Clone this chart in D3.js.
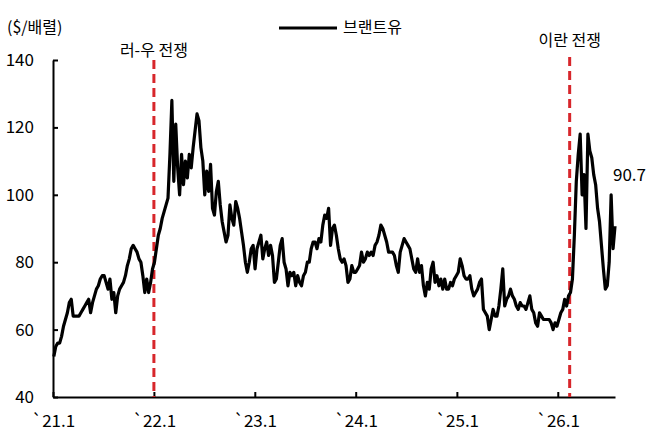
<!DOCTYPE html>
<html>
<head>
<meta charset="utf-8">
<script src="https://cdn.jsdelivr.net/npm/d3@7"></script>
<style>
body { margin: 0; background: #fff; }
text { font-family: "Noto Sans CJK KR", "Noto Sans", sans-serif; fill: #000; }
</style>
</head>
<body>
<div id="chart"></div>
<script>
// weekly Brent closes ($/bbl), first week = 2021-01-04
var brent21 = [52,55,56,56, 58,61,63,65, 68,69,64,64,64, 64,65,66,67, 68,69,65,68,70, 72,73,75,76, 76,74,72,75, 69,71,65,70,72, 73,74,76,79, 81,84,85,84, 83,81,80,76,71, 75,71,74,78];
var brent22 = [80,84,88,90,93, 95,97,99,112, 128,104,121,108, 100,112,103,110, 105,112,108,114,119, 124,122,114,110, 100,107,101,109, 96,94,101,104,97, 92,89,86,88, 97,93,91,98, 96,93,89,85,80, 77,80,84,85];
var brent23 = [78,84,86,88,81, 84,86,82,85, 82,74,75,80, 85,87,80,78, 73,77,76,77,73, 76,74,73,76, 77,80,80,84,86, 86,84,87,86, 91,94,93,96, 85,90,91,88, 84,81,80,81,79, 74,75,79,77];
var brent24 = [77,78,79,83,80, 81,83,82,83, 82,85,86,88, 91,90,88,86,83, 83,83,82,79, 77,83,85,87, 86,85,84,81,78, 77,81,77,79, 73,70,74,72, 78,80,74,76,73, 75,72,75,72, 72,74,73,75];
var brent25 = [76,77,81,79,76, 75,75,76,72, 70,71,72,74,75, 66,65,64,60, 63,66,64,64, 67,72,78,67,69, 70,72,70,69, 67,66,68,67, 67,66,68,70,66, 65,62,61,65, 64,63,63,63, 63,62,60,62];
var brent26 = [61,63,65,66,69, 67,70,71,75, 88,104,112,118,100, 106,90,118,113, 111,106,103,96, 92,85,78,72,73, 80,100,84,90.7];

var firstWeek = new Date(2021, 0, 4);
var yTicks = [40, 60, 80, 100, 120, 140];
var xTickDates = [new Date(2021,0,1), new Date(2022,0,1), new Date(2023,0,1), new Date(2024,0,1), new Date(2025,0,1), new Date(2026,0,1)];
var xTickLabels = ['`21.1', '`22.1', '`23.1', '`24.1', '`25.1', '`26.1'];
var events = [
    {label: '러-우 전쟁', date: new Date(2022, 0, 1), labelY: 50, top: 60},
    {label: '이란 전쟁', date: new Date(2026, 1, 13), labelY: 40, top: 57}
];

var values = brent21.concat(brent22, brent23, brent24, brent25, brent26);
var data = values.map(function (v, i) {
    return {date: d3.timeDay.offset(firstWeek, i * 7), value: v};
});
var last = data[data.length - 1];

var width = 667, height = 435;
var svg = d3.select('#chart')
            .append('svg')
            .attr('width', width)
            .attr('height', height);

var x = d3.scaleTime()
          .domain([new Date(2021, 0, 1), last.date])
          .range([53, 615]);
var y = d3.scaleLinear()
          .domain([40, 140])
          .range([397, 60]);

// axes
var yAxis = svg.append('g')
    .attr('transform', 'translate(53,0)')
    .call(d3.axisLeft(y).tickValues(yTicks).tickSizeInner(-5).tickSizeOuter(0).tickPadding(19));
var xAxis = svg.append('g')
    .attr('transform', 'translate(0,397)')
    .call(d3.axisBottom(x).tickValues(xTickDates)
        .tickFormat(function (d, i) { return xTickLabels[i]; })
        .tickSizeInner(-5).tickSizeOuter(0).tickPadding(18));

svg.selectAll('.domain, .tick line').attr('stroke', '#000').attr('stroke-width', 2);
svg.selectAll('.tick text').style('font-size', '17px').attr('fill', '#000');

// event lines
events.forEach(function (e) {
    svg.append('line')
        .attr('x1', x(e.date)).attr('x2', x(e.date))
        .attr('y1', e.top).attr('y2', 397)
        .attr('stroke', '#d7262b')
        .attr('stroke-width', 3)
        .attr('stroke-dasharray', '9,5');
    svg.append('text')
        .attr('x', x(e.date))
        .attr('y', e.labelY)
        .attr('dy', '0.36em')
        .attr('text-anchor', 'middle')
        .style('font-size', '16px')
        .text(e.label);
});

var line = d3.line()
    .x(function (d) { return x(d.date); })
    .y(function (d) { return y(d.value); });

svg.append('path')
    .datum(data)
    .attr('fill', 'none')
    .attr('stroke', '#000')
    .attr('stroke-width', 3.2)
    .attr('stroke-linejoin', 'round')
    .attr('d', line);

// last value
svg.append('text')
    .attr('x', 613)
    .attr('y', 175)
    .attr('dy', '0.36em')
    .style('font-size', '17px')
    .text(last.value);

// unit + legend
svg.append('text')
    .attr('x', 7).attr('y', 27).attr('dy', '0.36em')
    .style('font-size', '16px')
    .text('($/배렬)');

svg.append('line')
    .attr('x1', 279).attr('x2', 337)
    .attr('y1', 28).attr('y2', 28)
    .attr('stroke', '#000')
    .attr('stroke-width', 3);
svg.append('text')
    .attr('x', 343).attr('y', 27).attr('dy', '0.36em')
    .style('font-size', '16px')
    .text('브랜트유');
</script>
</body>
</html>
